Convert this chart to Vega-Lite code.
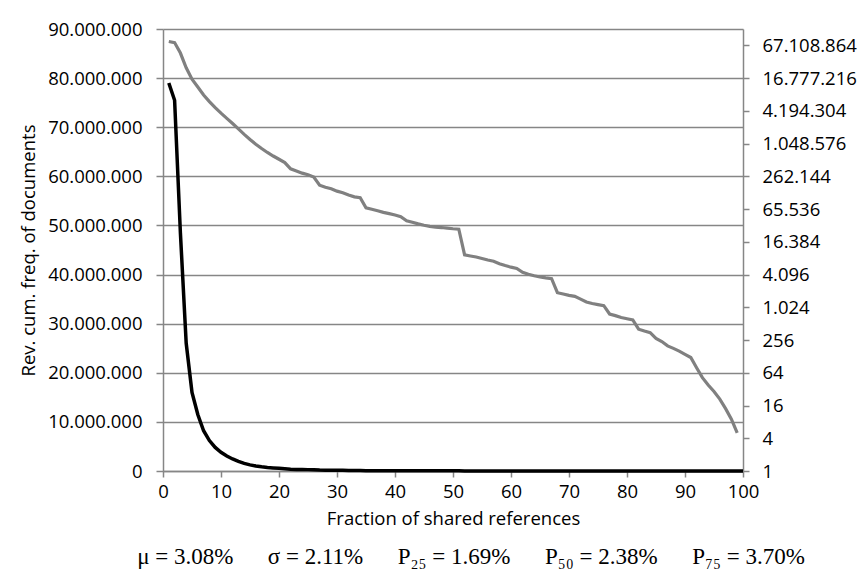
{
  "$schema": "https://vega.github.io/schema/vega-lite/v6.json",
  "width": 580,
  "height": 442,
  "autosize": {"type": "none"},
  "padding": {"left": 163, "top": 29, "right": 121, "bottom": 114},
  "background": "white",
  "config": {
    "locale": {"number": {"decimal": ",", "thousands": ".", "grouping": [3], "currency": ["", ""]}},
    "view": {"stroke": null},
    "font": "Open Sans",
    "axis": {
      "labelFont": "Open Sans",
      "labelFontSize": 18.5,
      "labelColor": "#000000",
      "titleFont": "Open Sans",
      "titleFontSize": 18.5,
      "titleFontWeight": "normal",
      "titleColor": "#000000",
      "domainColor": "#868686",
      "domainWidth": 1.5,
      "tickColor": "#868686",
      "tickWidth": 1.5,
      "gridColor": "#868686",
      "gridWidth": 1.5
    }
  },
  "title": {
    "text": "\u03bc = 3.08%\u00a0\u00a0\u00a0\u00a0\u00a0\u00a0\u03c3 = 2.11%\u00a0\u00a0\u00a0\u00a0\u00a0\u00a0P\u2082\u2085 = 1.69%\u00a0\u00a0\u00a0\u00a0\u00a0\u00a0P\u2085\u2080 = 2.38%\u00a0\u00a0\u00a0\u00a0\u00a0\u00a0P\u2087\u2085 = 3.70%",
    "orient": "bottom",
    "anchor": "middle",
    "font": "Liberation Serif",
    "fontSize": 23,
    "fontWeight": "normal",
    "fontStyle": "normal",
    "color": "#000000",
    "offset": 18,
    "dx": 18
  },
  "data": {
    "values": [
      {"x": 1, "value": 79000000}, {"x": 2, "value": 75500000}, {"x": 3, "value": 48500000},
      {"x": 4, "value": 26000000}, {"x": 5, "value": 16000000}, {"x": 6, "value": 11500000},
      {"x": 7, "value": 8200000}, {"x": 8, "value": 6200000}, {"x": 9, "value": 4800000},
      {"x": 10, "value": 3800000}, {"x": 11, "value": 3050000}, {"x": 12, "value": 2450000},
      {"x": 13, "value": 1950000}, {"x": 14, "value": 1550000}, {"x": 15, "value": 1250000},
      {"x": 16, "value": 1020000}, {"x": 17, "value": 850000}, {"x": 18, "value": 720000},
      {"x": 19, "value": 620000}, {"x": 20, "value": 540000}, {"x": 21, "value": 470000},
      {"x": 22, "value": 360000}, {"x": 23, "value": 330000}, {"x": 24, "value": 300000},
      {"x": 25, "value": 280000}, {"x": 26, "value": 255000}, {"x": 27, "value": 180000},
      {"x": 28, "value": 165000}, {"x": 29, "value": 155000}, {"x": 30, "value": 140000},
      {"x": 31, "value": 131000}, {"x": 32, "value": 119000}, {"x": 33, "value": 110000},
      {"x": 34, "value": 106000}, {"x": 35, "value": 69000}, {"x": 36, "value": 65000},
      {"x": 37, "value": 61000}, {"x": 38, "value": 57000}, {"x": 39, "value": 54000},
      {"x": 40, "value": 51000}, {"x": 41, "value": 47500}, {"x": 42, "value": 40000},
      {"x": 43, "value": 37500}, {"x": 44, "value": 35000}, {"x": 45, "value": 33000},
      {"x": 46, "value": 31500}, {"x": 47, "value": 30500}, {"x": 48, "value": 30000},
      {"x": 49, "value": 29200}, {"x": 50, "value": 28500}, {"x": 51, "value": 28000},
      {"x": 52, "value": 9400}, {"x": 53, "value": 9000}, {"x": 54, "value": 8600},
      {"x": 55, "value": 8100}, {"x": 56, "value": 7600}, {"x": 57, "value": 7200},
      {"x": 58, "value": 6500}, {"x": 59, "value": 6000}, {"x": 60, "value": 5600},
      {"x": 61, "value": 5300}, {"x": 62, "value": 4500}, {"x": 63, "value": 4150},
      {"x": 64, "value": 3900}, {"x": 65, "value": 3700}, {"x": 66, "value": 3550},
      {"x": 67, "value": 3450}, {"x": 68, "value": 1900}, {"x": 69, "value": 1800},
      {"x": 70, "value": 1700}, {"x": 71, "value": 1630}, {"x": 72, "value": 1450},
      {"x": 73, "value": 1280}, {"x": 74, "value": 1200}, {"x": 75, "value": 1150},
      {"x": 76, "value": 1100}, {"x": 77, "value": 770}, {"x": 78, "value": 720},
      {"x": 79, "value": 665}, {"x": 80, "value": 630}, {"x": 81, "value": 600},
      {"x": 82, "value": 405}, {"x": 83, "value": 375}, {"x": 84, "value": 350},
      {"x": 85, "value": 275}, {"x": 86, "value": 240}, {"x": 87, "value": 200},
      {"x": 88, "value": 180}, {"x": 89, "value": 160}, {"x": 90, "value": 140},
      {"x": 91, "value": 122}, {"x": 92, "value": 79}, {"x": 93, "value": 52},
      {"x": 94, "value": 38}, {"x": 95, "value": 29}, {"x": 96, "value": 21},
      {"x": 97, "value": 14}, {"x": 98, "value": 9}, {"x": 99, "value": 5},
      {"x": 100, "value": 0}
    ]
  },
  "encoding": {
    "x": {
      "field": "x",
      "type": "quantitative",
      "scale": {"domain": [0, 100], "nice": false, "zero": false},
      "axis": {
        "values": [0, 10, 20, 30, 40, 50, 60, 70, 80, 90, 100],
        "title": "Fraction of shared references",
        "grid": false,
        "labelFlush": false,
        "tickSize": 6,
        "labelPadding": 5,
        "titlePadding": 9
      }
    }
  },
  "layer": [
    {
      "transform": [{"filter": "datum.value > 0"}],
      "mark": {"type": "line", "color": "#808080", "strokeWidth": 3.2, "clip": true},
      "encoding": {
        "y": {
          "field": "value",
          "type": "quantitative",
          "scale": {"type": "log", "base": 2, "domain": [1, 134217728], "nice": false},
          "axis": {
            "orient": "right",
            "values": [1, 4, 16, 64, 256, 1024, 4096, 16384, 65536, 262144, 1048576, 4194304, 16777216, 67108864],
            "format": ",d",
            "grid": false,
            "title": null,
            "labelFlush": false,
            "tickSize": 6,
            "labelPadding": 13
          }
        }
      }
    },
    {
      "mark": {"type": "line", "color": "#000000", "strokeWidth": 3.5},
      "encoding": {
        "y": {
          "field": "value",
          "type": "quantitative",
          "scale": {"domain": [0, 90000000], "nice": false},
          "axis": {
            "orient": "left",
            "values": [0, 10000000, 20000000, 30000000, 40000000, 50000000, 60000000, 70000000, 80000000, 90000000],
            "format": ",d",
            "grid": true,
            "title": "Rev. cum. freq. of documents",
            "labelFlush": false,
            "tickSize": 7,
            "labelPadding": 14,
            "titlePadding": 9
          }
        }
      }
    }
  ],
  "resolve": {"scale": {"y": "independent"}}
}
